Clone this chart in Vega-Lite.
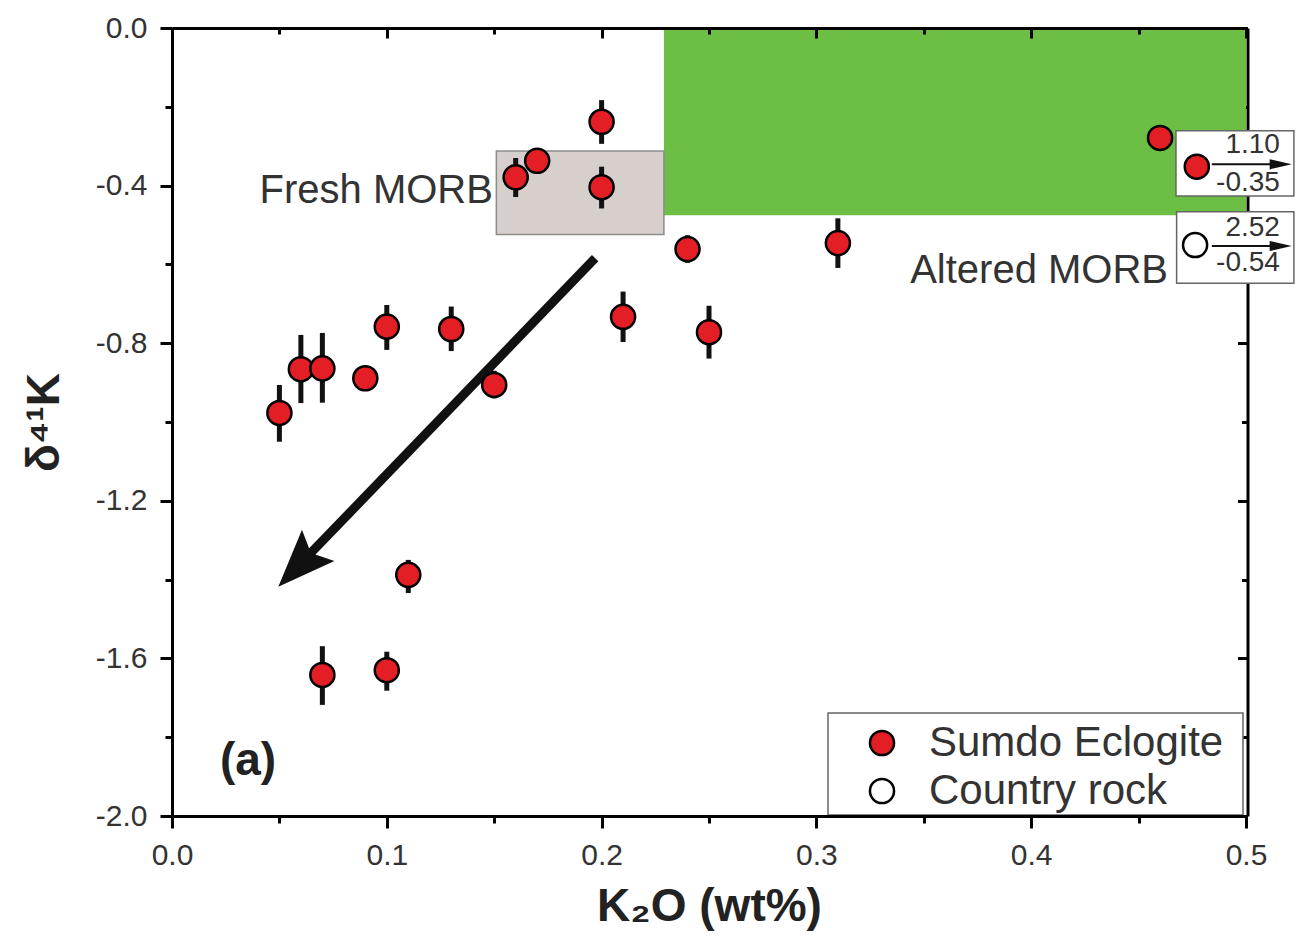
{
  "$schema": "https://vega.github.io/schema/vega-lite/v6.json",
  "width": 1074,
  "height": 788,
  "autosize": {"type": "none"},
  "padding": {"left": 172, "top": 28, "right": 52, "bottom": 129},
  "background": "white",
  "config": {"view": {"stroke": null}, "font": "Liberation Sans"},
  "resolve": {"axis": {"x": "independent", "y": "independent"}},
  "layer": [
    {
      "data": {"values": [{"x": 0.229, "x2": 0.5, "y": 0, "y2": -0.475}]},
      "mark": {"type": "rect", "fill": "#6dbe45", "strokeWidth": 0},
      "encoding": {
        "x": {"field": "x", "type": "quantitative", "scale": {"domain": [0, 0.5], "nice": false, "zero": false},
          "axis": {"orient": "bottom", "values": [0, 0.05, 0.1, 0.15, 0.2, 0.25, 0.3, 0.35, 0.4, 0.45, 0.5],
            "labelExpr": "abs(datum.value*10 - round(datum.value*10)) < 0.01 ? format(datum.value, '.1f') : ''",
            "tickSize": {"condition": {"test": "abs(datum.value*10 - round(datum.value*10)) < 0.01", "value": 12}, "value": 7},
            "tickWidth": 3, "tickColor": "black", "domainWidth": 3, "domainColor": "black",
            "labelFontSize": 30, "labelColor": "#333", "labelPadding": 12, "labelFlush": false, "labelOverlap": false,
            "grid": false, "title": "K₂O (wt%)", "titleFontSize": 46, "titleFontWeight": "bold", "titleColor": "#222",
            "titlePadding": 14, "zindex": 1}},
        "x2": {"field": "x2"},
        "y": {"field": "y", "type": "quantitative", "scale": {"domain": [-2, 0], "nice": false, "zero": false},
          "axis": {"orient": "left", "values": [0, -0.2, -0.4, -0.6, -0.8, -1, -1.2, -1.4, -1.6, -1.8, -2],
            "labelExpr": "abs(datum.value/0.4 - round(datum.value/0.4)) < 0.01 ? (datum.value < 0 ? '-' : '') + format(abs(datum.value), '.1f') : ''",
            "tickSize": {"condition": {"test": "abs(datum.value/0.4 - round(datum.value/0.4)) < 0.01", "value": 12}, "value": 7},
            "tickWidth": 3, "tickColor": "black", "domainWidth": 3, "domainColor": "black",
            "labelFontSize": 30, "labelColor": "#333", "labelPadding": 13, "labelFlush": false, "labelOverlap": false,
            "grid": false, "title": "δ⁴¹K", "titleFontSize": 46, "titleFontWeight": "bold", "titleColor": "#222",
            "titlePadding": 27, "zindex": 1}},
        "y2": {"field": "y2"}
      }
    },
    {
      "data": {"values": [{"x": 0.151, "x2": 0.229, "y": -0.312, "y2": -0.524}]},
      "mark": {"type": "rect", "fill": "#d6cfcc", "stroke": "#8c8c8c", "strokeWidth": 1.5},
      "encoding": {
        "x": {"field": "x", "type": "quantitative", "scale": {"domain": [0, 0.5], "nice": false, "zero": false},
          "axis": {"orient": "top", "values": [0, 0.05, 0.1, 0.15, 0.2, 0.25, 0.3, 0.35, 0.4, 0.45, 0.5], "labels": false,
            "tickSize": {"condition": {"test": "abs(datum.value*10 - round(datum.value*10)) < 0.01", "value": -10}, "value": -6},
            "tickWidth": 3, "tickColor": "black", "domainWidth": 3, "domainColor": "black", "grid": false, "title": null, "zindex": 1}},
        "x2": {"field": "x2"},
        "y": {"field": "y", "type": "quantitative", "scale": {"domain": [-2, 0], "nice": false, "zero": false},
          "axis": {"orient": "right", "values": [0, -0.2, -0.4, -0.6, -0.8, -1, -1.2, -1.4, -1.6, -1.8, -2], "labels": false,
            "tickSize": {"condition": {"test": "abs(datum.value/0.4 - round(datum.value/0.4)) < 0.01", "value": -10}, "value": -6},
            "tickWidth": 3, "tickColor": "black", "domainWidth": 3, "domainColor": "black", "grid": false, "title": null,
            "offset": 1.5, "zindex": 0}},
        "y2": {"field": "y2"}
      }
    },
    {
      "data": {"values": [{"x": 0.197, "y": -0.584, "x2": 0.0642, "y2": -1.335}]},
      "mark": {"type": "rule", "color": "#111", "strokeWidth": 9, "strokeCap": "butt"},
      "encoding": {
        "x": {"field": "x", "type": "quantitative", "scale": {"domain": [0, 0.5], "nice": false, "zero": false}, "axis": null},
        "x2": {"field": "x2"},
        "y": {"field": "y", "type": "quantitative", "scale": {"domain": [-2, 0], "nice": false, "zero": false}, "axis": null},
        "y2": {"field": "y2"}
      }
    },
    {
      "data": {"values": [{"x": 0.0495, "y": -1.418}]},
      "mark": {"type": "point", "shape": "M0,0L0.55,1.4L0.12,1.2L-0.12,1.2L-0.55,1.4Z", "angle": 224, "size": 6724, "filled": true, "color": "#111", "opacity": 1},
      "encoding": {
        "x": {"field": "x", "type": "quantitative", "scale": {"domain": [0, 0.5], "nice": false, "zero": false}, "axis": null},
        "y": {"field": "y", "type": "quantitative", "scale": {"domain": [-2, 0], "nice": false, "zero": false}, "axis": null}
      }
    },
    {
      "data": {"values": [
        {"x": 0.05, "lo": -1.05, "hi": -0.906},
        {"x": 0.06, "lo": -0.952, "hi": -0.779},
        {"x": 0.07, "lo": -0.951, "hi": -0.774},
        {"x": 0.10, "lo": -0.817, "hi": -0.703},
        {"x": 0.13, "lo": -0.820, "hi": -0.707},
        {"x": 0.15, "lo": -0.94, "hi": -0.87},
        {"x": 0.11, "lo": -1.434, "hi": -1.350},
        {"x": 0.07, "lo": -1.718, "hi": -1.569},
        {"x": 0.10, "lo": -1.682, "hi": -1.583},
        {"x": 0.16, "lo": -0.429, "hi": -0.33},
        {"x": 0.20, "lo": -0.294, "hi": -0.183},
        {"x": 0.20, "lo": -0.458, "hi": -0.352},
        {"x": 0.21, "lo": -0.797, "hi": -0.669},
        {"x": 0.24, "lo": -0.596, "hi": -0.526},
        {"x": 0.25, "lo": -0.839, "hi": -0.705},
        {"x": 0.31, "lo": -0.609, "hi": -0.483}
      ]},
      "mark": {"type": "rule", "color": "#111", "strokeWidth": 5},
      "encoding": {
        "x": {"field": "x", "type": "quantitative", "scale": {"domain": [0, 0.5], "nice": false, "zero": false}, "axis": null},
        "y": {"field": "lo", "type": "quantitative", "scale": {"domain": [-2, 0], "nice": false, "zero": false}, "axis": null},
        "y2": {"field": "hi"}
      }
    },
    {
      "data": {"values": [
        {"x": 0.4674, "x2": 0.5223, "y": -0.2607, "y2": -0.4264},
        {"x": 0.4677, "x2": 0.5223, "y": -0.4663, "y2": -0.648},
        {"x": 0.3054, "x2": 0.4986, "y": -1.7386, "y2": -1.9975}
      ]},
      "mark": {"type": "rect", "fill": "white", "stroke": "#666", "strokeWidth": 1.5},
      "encoding": {
        "x": {"field": "x", "type": "quantitative", "scale": {"domain": [0, 0.5], "nice": false, "zero": false}, "axis": null},
        "x2": {"field": "x2"},
        "y": {"field": "y", "type": "quantitative", "scale": {"domain": [-2, 0], "nice": false, "zero": false}, "axis": null},
        "y2": {"field": "y2"}
      }
    },
    {
      "data": {"values": [
        {"x": 0.4841, "x2": 0.514, "y": -0.346},
        {"x": 0.4841, "x2": 0.514, "y": -0.5533}
      ]},
      "mark": {"type": "rule", "color": "#111", "strokeWidth": 2},
      "encoding": {
        "x": {"field": "x", "type": "quantitative", "scale": {"domain": [0, 0.5], "nice": false, "zero": false}, "axis": null},
        "x2": {"field": "x2"},
        "y": {"field": "y", "type": "quantitative", "scale": {"domain": [-2, 0], "nice": false, "zero": false}, "axis": null}
      }
    },
    {
      "data": {"values": [{"x": 0.5213, "y": -0.346}, {"x": 0.5213, "y": -0.5533}]},
      "mark": {"type": "point", "shape": "M0,0L-1.3,-0.3L-1.3,0.3Z", "size": 1156, "filled": true, "color": "#111", "opacity": 1},
      "encoding": {
        "x": {"field": "x", "type": "quantitative", "scale": {"domain": [0, 0.5], "nice": false, "zero": false}, "axis": null},
        "y": {"field": "y", "type": "quantitative", "scale": {"domain": [-2, 0], "nice": false, "zero": false}, "axis": null}
      }
    },
    {
      "data": {"values": [
        {"x": 0.05, "y": -0.977, "type": "Sumdo Eclogite"},
        {"x": 0.06, "y": -0.866, "type": "Sumdo Eclogite"},
        {"x": 0.07, "y": -0.864, "type": "Sumdo Eclogite"},
        {"x": 0.09, "y": -0.889, "type": "Sumdo Eclogite"},
        {"x": 0.10, "y": -0.758, "type": "Sumdo Eclogite"},
        {"x": 0.13, "y": -0.764, "type": "Sumdo Eclogite"},
        {"x": 0.15, "y": -0.906, "type": "Sumdo Eclogite"},
        {"x": 0.11, "y": -1.388, "type": "Sumdo Eclogite"},
        {"x": 0.07, "y": -1.642, "type": "Sumdo Eclogite"},
        {"x": 0.10, "y": -1.630, "type": "Sumdo Eclogite"},
        {"x": 0.16, "y": -0.379, "type": "Sumdo Eclogite"},
        {"x": 0.17, "y": -0.337, "type": "Sumdo Eclogite"},
        {"x": 0.20, "y": -0.238, "type": "Sumdo Eclogite"},
        {"x": 0.20, "y": -0.404, "type": "Sumdo Eclogite"},
        {"x": 0.21, "y": -0.733, "type": "Sumdo Eclogite"},
        {"x": 0.24, "y": -0.561, "type": "Sumdo Eclogite"},
        {"x": 0.25, "y": -0.772, "type": "Sumdo Eclogite"},
        {"x": 0.31, "y": -0.546, "type": "Sumdo Eclogite"},
        {"x": 0.46, "y": -0.279, "type": "Sumdo Eclogite"},
        {"x": 0.4771, "y": -0.352, "type": "Sumdo Eclogite"},
        {"x": 0.4763, "y": -0.5508, "type": "Country rock"}
      ]},
      "mark": {"type": "point", "shape": "circle", "filled": true, "size": 580, "stroke": "black", "strokeWidth": 2.5, "opacity": 1},
      "encoding": {
        "x": {"field": "x", "type": "quantitative", "scale": {"domain": [0, 0.5], "nice": false, "zero": false}, "axis": null},
        "y": {"field": "y", "type": "quantitative", "scale": {"domain": [-2, 0], "nice": false, "zero": false}, "axis": null},
        "fill": {"field": "type", "type": "nominal",
          "scale": {"domain": ["Sumdo Eclogite", "Country rock"], "range": ["#e31e24", "#ffffff"]},
          "legend": {"orient": "none", "legendX": 656, "legendY": 685, "title": null,
            "padding": 9, "symbolOffset": 24, "labelOffset": 26,
            "rowPadding": 6, "labelFontSize": 42, "labelFont": "Liberation Sans", "labelColor": "#333",
            "symbolSize": 580, "symbolStrokeColor": "black", "symbolStrokeWidth": 2.5, "symbolType": "circle", "labelLimit": 500}}
      }
    },
    {
      "data": {"values": [
        {"x": 0.1494, "y": -0.414, "label": "Fresh MORB"},
        {"x": 0.4637, "y": -0.616, "label": "Altered MORB"}
      ]},
      "mark": {"type": "text", "align": "right", "baseline": "middle", "fontSize": 40, "font": "Liberation Sans", "color": "#333"},
      "encoding": {
        "x": {"field": "x", "type": "quantitative", "scale": {"domain": [0, 0.5], "nice": false, "zero": false}, "axis": null},
        "y": {"field": "y", "type": "quantitative", "scale": {"domain": [-2, 0], "nice": false, "zero": false}, "axis": null},
        "text": {"field": "label"}
      }
    },
    {
      "data": {"values": [{"x": 0.0354, "y": -1.86, "label": "(a)"}]},
      "mark": {"type": "text", "align": "center", "baseline": "middle", "fontSize": 46, "fontWeight": "bold", "font": "Liberation Sans", "color": "#222"},
      "encoding": {
        "x": {"field": "x", "type": "quantitative", "scale": {"domain": [0, 0.5], "nice": false, "zero": false}, "axis": null},
        "y": {"field": "y", "type": "quantitative", "scale": {"domain": [-2, 0], "nice": false, "zero": false}, "axis": null},
        "text": {"field": "label"}
      }
    },
    {
      "data": {"values": [
        {"x": 0.5158, "y": -0.298, "label": "1.10"},
        {"x": 0.5158, "y": -0.394, "label": "-0.35"},
        {"x": 0.5158, "y": -0.508, "label": "2.52"},
        {"x": 0.5158, "y": -0.597, "label": "-0.54"}
      ]},
      "mark": {"type": "text", "align": "right", "baseline": "middle", "fontSize": 28, "font": "Liberation Sans", "color": "#333"},
      "encoding": {
        "x": {"field": "x", "type": "quantitative", "scale": {"domain": [0, 0.5], "nice": false, "zero": false}, "axis": null},
        "y": {"field": "y", "type": "quantitative", "scale": {"domain": [-2, 0], "nice": false, "zero": false}, "axis": null},
        "text": {"field": "label"}
      }
    }
  ]
}
